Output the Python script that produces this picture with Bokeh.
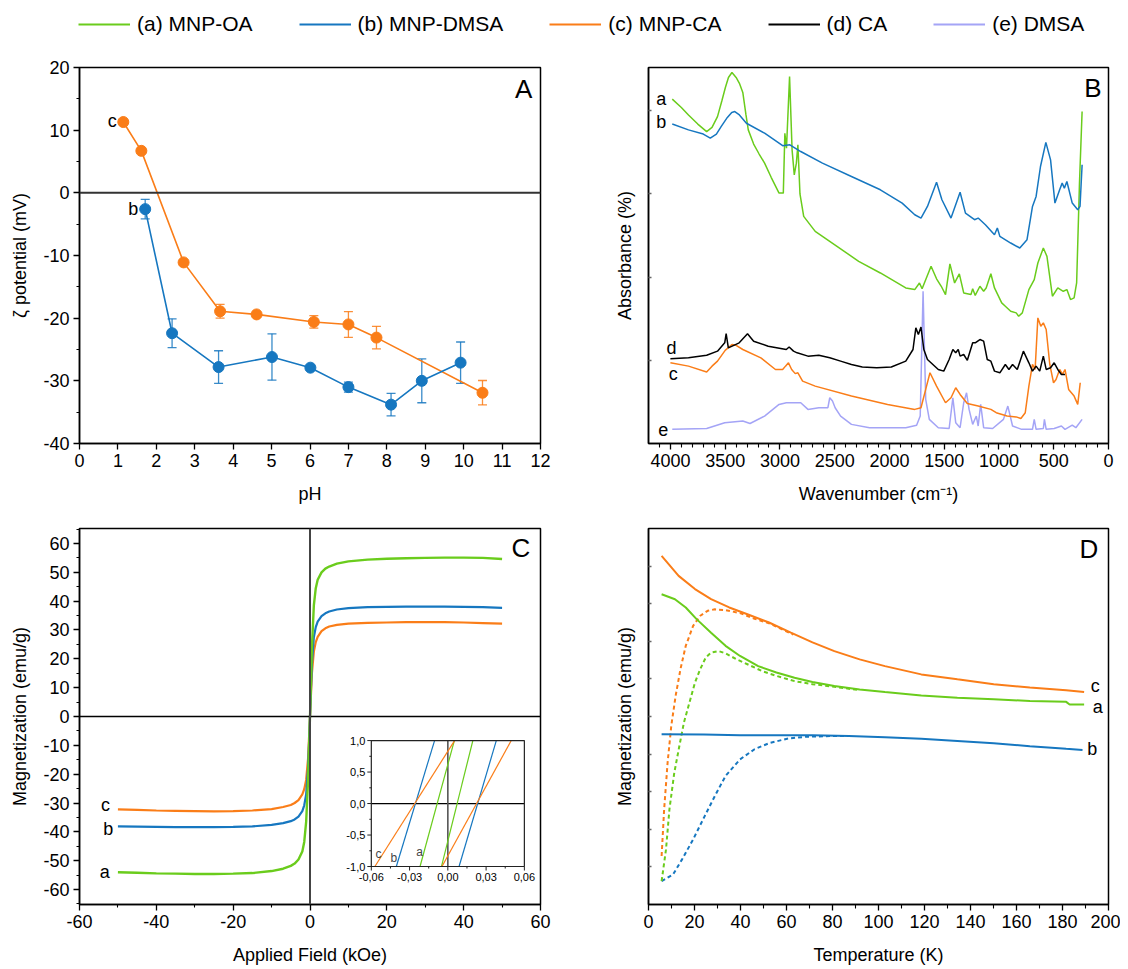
from bokeh.plotting import figure
from bokeh.models import (Range1d, FixedTicker, Span, Whisker, ColumnDataSource,
                          Legend, LegendItem, Label, TeeHead)
from bokeh.layouts import column, row
from bokeh.embed import file_html
from bokeh.resources import INLINE
from bokeh.core.properties import value

FONT = "Liberation Sans"
GREEN = "#6acc1c"
BLUE = "#1677c0"
ORANGE = "#fa7d18"
BLACK = "#000000"
PURPLE = "#a4a4f6"

# ---------------- legend ----------------
series_names = ["(a) MNP-OA", "(b) MNP-DMSA", "(c) MNP-CA", "(d) CA", "(e) DMSA"]
series_colors = [GREEN, BLUE, ORANGE, BLACK, PURPLE]

# ---------------- panel A : zeta potential ----------------
ph_c = [1.14, 1.61, 2.71, 3.66, 4.61, 6.10, 7.00, 7.73, 10.49]
zeta_c = [11.3, 6.7, -11.1, -18.9, -19.4, -20.6, -21.0, -23.1, -31.9]
err_c = [0.3, 0.3, 0.4, 1.1, 0.3, 1.0, 2.05, 1.8, 1.95]
ph_b = [1.71, 2.41, 3.62, 5.01, 6.01, 7.00, 8.11, 8.91, 9.92]
zeta_b = [-2.6, -22.4, -27.8, -26.2, -27.9, -31.0, -33.8, -30.0, -27.1]
err_b = [1.55, 2.3, 2.6, 3.7, 0.3, 0.8, 1.8, 3.5, 3.3]

# ---------------- panel B : FTIR spectra ----------------
wn_a = [3983, 3900, 3835, 3750, 3669, 3620, 3570, 3530, 3498, 3470, 3438, 3400, 3370, 3339,
        3310, 3289, 3240, 3190, 3140, 3080, 3008, 2969, 2955, 2940, 2912,
        2889, 2869, 2850, 2836, 2817, 2783, 2678, 2479, 2281, 2083, 1851, 1769, 1726, 1702,
        1620, 1570, 1527, 1488, 1448, 1405, 1362, 1322, 1256, 1240, 1217, 1174, 1140, 1117,
        1074, 1041, 975, 942, 893, 843, 820, 787, 727, 678, 645, 595, 562, 512, 463, 413,
        380, 347, 314, 291, 265, 241]
ab_a = [4.14, 4.04, 3.95, 3.84, 3.75, 3.80, 3.93, 4.12, 4.28, 4.40, 4.46, 4.40, 4.33, 4.22,
        3.95, 3.77, 3.60, 3.48, 3.37, 3.20, 3.01, 3.01, 3.73, 3.55, 4.41,
        3.53, 3.23, 3.37, 3.59, 3.00, 2.73, 2.55, 2.37, 2.19, 2.05, 1.87, 1.85, 1.93, 1.86,
        2.13, 1.98, 1.89, 1.79, 2.16, 1.93, 2.04, 1.81, 1.79, 1.86, 1.78, 1.89, 1.83, 1.87,
        2.04, 1.87, 1.69, 1.65, 1.59, 1.57, 1.53, 1.57, 1.85, 1.97, 2.17, 2.35, 2.25, 1.77,
        1.87, 1.83, 1.85, 1.73, 1.75, 1.93, 3.13, 3.99]
wn_b = [3983, 3835, 3700, 3636, 3580, 3537, 3480, 3440, 3412, 3370, 3306, 3140, 2975, 2909,
        2810, 2612, 2347, 2083, 1884,
        1769, 1712, 1653, 1570, 1521, 1438, 1355, 1306, 1223, 1190, 1124, 1041, 1015, 992,
        893, 810, 744, 694, 661, 621, 572, 529, 489, 446, 423, 403, 380, 331, 281, 260, 241]
ab_b = [3.84, 3.77, 3.72, 3.67, 3.72, 3.81, 3.92, 3.98, 3.99, 3.95, 3.85, 3.73, 3.58, 3.59,
        3.51, 3.37, 3.21, 3.05, 2.89,
        2.75, 2.71, 2.85, 3.14, 2.93, 2.71, 3.02, 2.77, 2.69, 2.71, 2.63, 2.51, 2.59, 2.49,
        2.41, 2.35, 2.45, 2.85, 2.97, 3.33, 3.62, 3.41, 2.89, 3.05, 3.13, 3.07, 3.15, 2.89,
        2.81, 2.85, 3.35]
wn_d = [4000, 3835, 3669, 3570, 3504, 3491, 3471, 3372, 3296, 3240, 3107, 2942, 2916, 2876,
        2843, 2744, 2645, 2545, 2446, 2347, 2248, 2116, 1983, 1851, 1785, 1759, 1736, 1712,
        1686, 1653, 1554, 1504, 1455, 1421, 1395, 1372, 1355, 1322, 1289, 1240, 1217, 1174,
        1140, 1107, 1074, 1041, 992, 942, 909, 876, 833, 777, 727, 694, 661, 628, 595, 569,
        529, 496, 463, 430, 397]
ab_d = [1.02, 1.03, 1.06, 1.11, 1.21, 1.32, 1.15, 1.21, 1.32, 1.23, 1.17, 1.13, 1.16, 1.11,
        1.09, 1.05, 1.06, 1.03, 0.99, 0.95, 0.92, 0.91, 0.92, 0.99, 1.13, 1.39, 1.31, 1.40,
        1.13, 1.01, 0.89, 0.87, 1.01, 1.13, 1.09, 1.13, 1.05, 1.07, 1.00, 1.21, 1.21, 1.25,
        1.23, 1.01, 0.99, 0.87, 0.85, 0.95, 0.89, 0.95, 0.89, 1.11, 0.97, 0.87, 0.93, 0.87,
        1.05, 0.89, 0.91, 0.97, 0.89, 0.83, 0.83]
wn_c = [4000, 3835, 3669, 3620, 3570, 3500, 3438, 3400, 3339, 3174, 3041, 2975, 2949, 2922,
        2893, 2860, 2836,
        2793, 2678, 2347, 2017, 1769, 1712, 1669, 1630, 1570, 1488, 1438, 1395, 1355, 1289,
        1190, 1074, 1025, 926, 843, 800, 760, 727, 694, 670, 645, 618, 595, 569, 536, 502,
        479, 446, 420, 397, 364, 314, 281, 258]
ab_c = [0.97, 0.93, 0.86, 0.93, 0.99, 1.12, 1.19, 1.18, 1.13, 1.03, 0.89, 0.89, 0.93, 0.97,
        0.89, 0.84, 0.85,
        0.75, 0.69, 0.57, 0.47, 0.41, 0.43, 0.65, 0.85, 0.69, 0.49, 0.55, 0.67, 0.59, 0.48,
        0.45, 0.41, 0.37, 0.33, 0.32, 0.30, 0.37, 0.69, 0.95, 0.89, 1.51, 1.41, 1.45, 1.37,
        0.95, 0.73, 0.77, 0.89, 0.83, 0.89, 0.65, 0.57, 0.47, 0.73]
wn_e = [3983, 3669, 3504, 3339, 3273, 3140, 3008, 2942, 2810, 2744, 2645, 2562, 2545, 2520,
        2496, 2446, 2347, 2182, 1851, 1752, 1719, 1693, 1669, 1636, 1554, 1455, 1421, 1395,
        1355, 1322, 1296, 1273, 1240, 1207, 1190, 1167, 1140, 1058, 959, 919, 876, 793, 694,
        678, 661, 595, 585, 569, 496, 430, 397, 331, 298, 241]
ab_e = [0.17, 0.18, 0.25, 0.27, 0.24, 0.33, 0.47, 0.49, 0.49, 0.41, 0.43, 0.43, 0.55, 0.51,
        0.43, 0.33, 0.23, 0.19, 0.19, 0.22, 0.33, 1.83, 0.53, 0.29, 0.19, 0.18, 0.55, 0.25,
        0.19, 0.49, 0.61, 0.41, 0.23, 0.33, 0.21, 0.47, 0.19, 0.18, 0.29, 0.45, 0.21, 0.17,
        0.17, 0.29, 0.17, 0.18, 0.29, 0.17, 0.18, 0.21, 0.17, 0.22, 0.19, 0.29]

# ---------------- panel C : hysteresis ----------------
field = [-50, -45, -40, -35, -30, -25, -20, -15, -10, -7, -5, -4, -3, -2, -1.5, -1, -0.5, 0,
         0.5, 1, 1.5, 2, 3, 4, 5, 7, 10, 15, 20, 25, 30, 35, 40, 45, 50]
mag_a = [-54.0, -54.2, -54.4, -54.5, -54.6, -54.6, -54.5, -54.3, -53.6, -52.8, -51.8, -51.0,
         -49.6, -46.8, -43.5, -36.5, -22.0, 0.0, 24.0, 38.5, 44.5, 47.4, 50.0, 51.3, 52.0,
         53.0, 53.8, 54.4, 54.7, 54.9, 55.0, 55.1, 55.1, 55.0, 54.6]
mag_b = [-38.1, -38.2, -38.3, -38.4, -38.4, -38.4, -38.3, -38.1, -37.6, -37.0, -36.3, -35.7,
         -34.7, -32.8, -30.8, -27.0, -18.0, 0.0, 18.5, 27.5, 31.0, 32.9, 34.8, 35.8, 36.4,
         37.1, 37.6, 37.9, 38.0, 38.1, 38.1, 38.1, 38.0, 37.9, 37.7]
mag_c = [-32.2, -32.4, -32.6, -32.7, -32.8, -32.9, -32.8, -32.6, -32.1, -31.4, -30.7, -30.0,
         -29.0, -27.0, -25.2, -22.0, -14.5, 0.0, 15.0, 22.5, 25.8, 27.6, 29.6, 30.6, 31.2,
         31.8, 32.2, 32.5, 32.6, 32.7, 32.7, 32.7, 32.6, 32.4, 32.2]
# inset (low-field zoom): field at M = -1 and M = +1 for each branch
inset_mag = [-1.0, 1.0]
inset_a = [[-0.0218, 0.0051], [-0.0050, 0.0196]]
inset_b = [[-0.0404, -0.0104], [0.0088, 0.0380]]
inset_c = [[-0.0572, 0.0053], [-0.0046, 0.0497]]
inset_xticks = [-0.06, -0.03, 0.0, 0.03, 0.06]
inset_xminor = [-0.045, -0.015, 0.015, 0.045]
inset_yticks = [-1.0, -0.5, 0.0, 0.5, 1.0]
inset_yminor = [-0.75, -0.25, 0.25, 0.75]

# ---------------- panel D : ZFC / FC ----------------
t_fc_c = [5.7, 13.1, 20.2, 27.2, 35.1, 43.0, 52.4, 61.9, 71.3, 80.8, 91.8, 102.8, 118.6,
          134.3, 150.1, 165.8, 181.6, 189.4]
m_fc_c = [9.27, 8.74, 8.39, 8.12, 7.90, 7.72, 7.50, 7.23, 6.97, 6.74, 6.52, 6.34, 6.12,
          5.99, 5.86, 5.77, 5.70, 5.65]
t_zfc_c = [5.7, 6.8, 8.3, 9.9, 11.8, 13.9, 16.2, 19.4, 22.5, 25.7, 28.8, 33.5, 39.8, 46.1,
           52.4, 58.7, 63.0]
m_zfc_c = [1.29, 2.53, 3.77, 4.75, 5.55, 6.26, 6.88, 7.41, 7.68, 7.81, 7.85, 7.83, 7.75,
           7.60, 7.48, 7.30, 7.18]
t_fc_a = [5.7, 11.5, 16.2, 20.9, 27.2, 33.5, 39.8, 47.7, 55.6, 63.5, 71.3, 80.8, 91.8,
          102.8, 118.6, 134.3, 150.1, 165.8, 181.6, 183.1, 189.4]
m_fc_a = [8.25, 8.12, 7.90, 7.59, 7.23, 6.88, 6.61, 6.34, 6.17, 6.03, 5.92, 5.81, 5.72,
          5.65, 5.56, 5.50, 5.46, 5.41, 5.39, 5.32, 5.32]
t_zfc_a = [5.7, 7.6, 9.1, 11.2, 13.4, 15.4, 17.8, 20.2, 22.5, 24.9, 27.2, 30.4, 33.5, 38.3,
           43.0, 49.3, 55.6, 63.5, 71.3, 80.8, 91.8]
m_zfc_a = [0.62, 1.46, 2.53, 3.50, 4.21, 4.84, 5.37, 5.90, 6.26, 6.57, 6.70, 6.74, 6.68,
           6.52, 6.39, 6.21, 6.08, 5.94, 5.86, 5.79, 5.70]
t_fc_b = [5.7, 24.1, 39.8, 55.6, 71.3, 87.1, 102.8, 118.6, 134.3, 150.1, 165.8, 181.6, 188.7]
m_fc_b = [4.53, 4.52, 4.50, 4.50, 4.50, 4.48, 4.45, 4.41, 4.35, 4.29, 4.21, 4.14, 4.11]
t_zfc_b = [5.7, 10.7, 14.6, 19.4, 24.1, 28.8, 33.5, 39.8, 46.1, 52.4, 60.3, 68.2, 79.2, 87.1]
m_zfc_b = [0.62, 0.80, 1.20, 1.73, 2.31, 2.88, 3.42, 3.86, 4.13, 4.29, 4.41, 4.46, 4.48, 4.48]


def make_fig(xr, yr, xlabel, ylabel, bl, br, bt, bb, fw, fh):
    p = figure(frame_width=fw, frame_height=fh, x_range=xr, y_range=yr,
               min_border_left=bl, min_border_right=br, min_border_top=bt,
               min_border_bottom=bb, output_backend="svg", toolbar_location=None,
               x_axis_label=xlabel, y_axis_label=ylabel)
    p.grid.visible = False
    p.outline_line_color = "black"
    p.outline_line_width = 1.5
    p.outline_line_alpha = 1.0
    for ax in (p.xaxis[0], p.yaxis[0]):
        ax.axis_line_width = 1.5
        ax.axis_line_color = "black"
        ax.major_tick_line_width = 1.3
        ax.minor_tick_line_width = 1.1
        ax.major_tick_line_color = "black"
        ax.minor_tick_line_color = "black"
        ax.major_tick_out = 6
        ax.major_tick_in = 0
        ax.minor_tick_out = 3
        ax.minor_tick_in = 0
        ax.major_label_text_font = FONT
        ax.major_label_text_font_size = "18px"
        ax.major_label_text_color = "black"
        ax.major_label_standoff = 4
        ax.axis_label_text_font = FONT
        ax.axis_label_text_font_size = "18px"
        ax.axis_label_text_font_style = "normal"
        ax.axis_label_text_color = "black"
    p.xaxis.axis_label_standoff = 14
    p.yaxis.axis_label_standoff = 10
    return p


def plain_labels(ticks):
    return {v: str(v) for v in ticks}


def tag(p, x, y, text, size="18px", **kw):
    p.add_layout(Label(x=x, y=y, text=text, text_font=FONT, text_font_size=size,
                       text_align="center", text_baseline="middle", text_color="black", **kw))


# ---------------- legend figure ----------------
pL = figure(width=1120, height=47, x_axis_type=None, y_axis_type=None, min_border=0,
            x_range=Range1d(0, 1), y_range=Range1d(0, 1),
            output_backend="svg", toolbar_location=None)
pL.grid.visible = False
pL.outline_line_color = None
items = []
for name, col in zip(series_names, series_colors):
    # data lies outside the visible range: only the legend sample is seen
    r = pL.line(x=[-2, -1], y=[-2, -1], line_color=col, line_width=2)
    items.append(LegendItem(label=name, renderers=[r]))
leg = Legend(items=items, orientation="horizontal", location=(78, 11), glyph_width=52,
             glyph_height=24, label_standoff=7, spacing=46, padding=0, margin=0,
             border_line_color=None, background_fill_alpha=0, label_text_font=FONT,
             label_text_font_size="21px", label_text_color="black", label_height=24)
pL.add_layout(leg, "center")

# ---------------- panel A ----------------
pA = make_fig(Range1d(0, 12), Range1d(-40, 20), "pH", "ζ potential (mV)",
              79, 30, 20, 69, 461, 376)
pA.xaxis.ticker = FixedTicker(ticks=list(range(0, 13)), minor_ticks=[])
a_yt = list(range(-40, 21, 10))
pA.yaxis.ticker = FixedTicker(ticks=a_yt, minor_ticks=list(range(-35, 20, 10)))
pA.yaxis.major_label_overrides = plain_labels(a_yt)
pA.add_layout(Span(location=0, dimension="width", line_color="#333333", line_width=2))
for xs, ys, es, col in ((ph_c, zeta_c, err_c, ORANGE), (ph_b, zeta_b, err_b, BLUE)):
    src = ColumnDataSource(dict(x=xs, y=ys,
                                lo=[y - e for y, e in zip(ys, es)],
                                hi=[y + e for y, e in zip(ys, es)]))
    pA.add_layout(Whisker(source=src, base="x", upper="hi", lower="lo",
                          line_color=col, line_width=1.3, line_alpha=0.85,
                          upper_head=TeeHead(size=9, line_color=col, line_width=1.3, line_alpha=0.85),
                          lower_head=TeeHead(size=9, line_color=col, line_width=1.3, line_alpha=0.85)))
    pA.line("x", "y", source=src, line_color=col, line_width=1.6)
    pA.scatter("x", "y", source=src, size=11, fill_color=col, line_color=col)
tag(pA, 0.85, 11.4, "c")
tag(pA, 1.40, -2.65, "b")
tag(pA, 11.56, 16.6, "A", size="26px")

# ---------------- panel B ----------------
pB = make_fig(Range1d(4200, 0), Range1d(0, 4.52), "Wavenumber (cm⁻¹)", "Absorbance (%)",
              78, 12, 20, 69, 460, 376)
pB.xaxis.ticker = FixedTicker(ticks=list(range(0, 4001, 500)),
                              minor_ticks=[v for v in range(100, 4200, 100) if v % 500])
pB.xaxis.minor_tick_out = 4
pB.yaxis.ticker = FixedTicker(ticks=[1, 2, 3, 4], minor_ticks=[])
pB.yaxis.major_label_overrides = {1: "", 2: "", 3: "", 4: ""}
pB.yaxis.major_tick_in = 3
pB.yaxis.major_tick_out = 0
pB.yaxis.major_tick_line_color = "#666666"
pB.yaxis.axis_label_standoff = 14
for xs, ys, col in ((wn_e, ab_e, PURPLE), (wn_c, ab_c, ORANGE), (wn_d, ab_d, BLACK),
                    (wn_a, ab_a, GREEN), (wn_b, ab_b, BLUE)):
    pB.line(xs, ys, line_color=col, line_width=1.5)
tag(pB, 4083, 4.14, "a")
tag(pB, 4083, 3.87, "b")
tag(pB, 3990, 1.15, "d")
tag(pB, 3975, 0.83, "c")
tag(pB, 4066, 0.17, "e")
tag(pB, 142, 4.27, "B", size="26px")

# ---------------- panel C ----------------
pC = make_fig(Range1d(-60, 60), Range1d(-65.2, 65.2), "Applied Field (kOe)",
              "Magnetization (emu/g)", 79, 30, 16, 64, 461, 376)
c_xt = list(range(-60, 61, 20))
c_yt = list(range(-60, 61, 10))
pC.xaxis.ticker = FixedTicker(ticks=c_xt, minor_ticks=list(range(-50, 60, 20)))
pC.yaxis.ticker = FixedTicker(ticks=c_yt, minor_ticks=list(range(-65, 66, 10)))
pC.xaxis.major_label_overrides = plain_labels(c_xt)
pC.yaxis.major_label_overrides = plain_labels(c_yt)
pC.add_layout(Span(location=0, dimension="width", line_color="black", line_width=1.5))
pC.add_layout(Span(location=0, dimension="height", line_color="#444444", line_width=2))
pC.line(field, mag_c, line_color=ORANGE, line_width=2.2)
pC.line(field, mag_b, line_color=BLUE, line_width=2.2)
pC.line(field, mag_a, line_color=GREEN, line_width=2.4)
tag(pC, -53.2, -30.6, "c")
tag(pC, -52.5, -39.0, "b")
tag(pC, -53.4, -54.0, "a")
tag(pC, 54.9, 58.3, "C", size="26px")

# inset drawn in its own ranges inside panel C
FW_C, FH_C = 461, 376
fx0, fx1 = 0.633, 0.965
fy0, fy1 = 0.101, 0.436
ix0, ix1 = inset_xticks[0], inset_xticks[-1]
iy0, iy1 = inset_yticks[0], inset_yticks[-1]
spx = (ix1 - ix0) / (fx1 - fx0)
spy = (iy1 - iy0) / (fy1 - fy0)
pC.extra_x_ranges = {"ix": Range1d(ix0 - fx0 * spx, ix0 - fx0 * spx + spx)}
pC.extra_y_ranges = {"iy": Range1d(iy0 - fy0 * spy, iy0 - fy0 * spy + spy)}
ux = spx / FW_C  # data units per pixel
uy = spy / FH_C
R = dict(x_range_name="ix", y_range_name="iy")
pC.segment(x0=[ix0], y0=[0], x1=[ix1], y1=[0], line_color="black", line_width=1.2, **R)
pC.segment(x0=[0], y0=[iy0], x1=[0], y1=[iy1], line_color="#555555", line_width=1.6, **R)
for branches, col in ((inset_a, GREEN), (inset_b, BLUE), (inset_c, ORANGE)):
    for br in branches:
        pC.line(br, inset_mag, line_color=col, line_width=1.2, **R)
pC.quad(left=[ix0], right=[ix1], bottom=[iy0], top=[iy1], fill_color=None,
        line_color="#222222", line_width=1.2, **R)
pC.segment(x0=inset_xticks, y0=[iy0] * 5, x1=inset_xticks, y1=[iy0 - 4 * uy] * 5,
           line_color="#222222", line_width=1, **R)
pC.segment(x0=inset_xminor, y0=[iy0] * 4, x1=inset_xminor, y1=[iy0 - 2 * uy] * 4,
           line_color="#222222", line_width=1, **R)
pC.segment(x0=[ix0] * 5, y0=inset_yticks, x1=[ix0 - 4 * ux] * 5, y1=inset_yticks,
           line_color="#222222", line_width=1, **R)
pC.segment(x0=[ix0] * 4, y0=inset_yminor, x1=[ix0 - 2 * ux] * 4, y1=inset_yminor,
           line_color="#222222", line_width=1, **R)
pC.text(x=inset_xticks, y=[iy0] * 5,
        text=[f"{v:.2f}".replace(".", ",") for v in inset_xticks],
        text_align="center", text_baseline="top", y_offset=6,
        text_font=value(FONT), text_font_size="11px", text_color="black", **R)
pC.text(x=[ix0] * 5, y=inset_yticks,
        text=[f"{v:.1f}".replace(".", ",") for v in inset_yticks],
        text_align="right", text_baseline="middle", x_offset=-6,
        text_font=value(FONT), text_font_size="11px", text_color="black", **R)
for tx, ty, tt in ((-0.0544, -0.80, "c"), (-0.0423, -0.86, "b"), (-0.0221, -0.77, "a")):
    pC.add_layout(Label(x=tx, y=ty, text=tt, text_font=FONT, text_font_size="12px",
                        text_align="center", text_baseline="middle", **R))

# ---------------- panel D ----------------
pD = make_fig(Range1d(0, 200), Range1d(0, 10.0), "Temperature (K)", "Magnetization (emu/g)",
              78, 12, 16, 64, 460, 376)
pD.xaxis.ticker = FixedTicker(ticks=list(range(0, 201, 20)),
                              minor_ticks=list(range(10, 200, 20)))
pD.xaxis.minor_tick_out = 4
pD.yaxis.ticker = FixedTicker(ticks=list(range(1, 10)), minor_ticks=[])
pD.yaxis.major_label_overrides = {v: "" for v in range(1, 10)}
pD.yaxis.major_tick_in = 3
pD.yaxis.major_tick_out = 0
pD.yaxis.major_tick_line_color = "#666666"
pD.yaxis.axis_label_standoff = 14
for ts, ms, col in ((t_zfc_b, m_zfc_b, BLUE), (t_zfc_a, m_zfc_a, GREEN),
                    (t_zfc_c, m_zfc_c, ORANGE)):
    pD.line(ts, ms, line_color=col, line_width=2, line_dash="4 3")
for ts, ms, col in ((t_fc_b, m_fc_b, BLUE), (t_fc_a, m_fc_a, GREEN), (t_fc_c, m_fc_c, ORANGE)):
    pD.line(ts, ms, line_color=col, line_width=2)
tag(pD, 194.2, 5.81, "c")
tag(pD, 195.3, 5.26, "a")
tag(pD, 192.9, 4.14, "b")
tag(pD, 191.5, 9.45, "D", size="26px")

layout = column(pL, row(pA, pB), row(pC, pD))
open("out.html", "w").write(file_html(layout, INLINE))
